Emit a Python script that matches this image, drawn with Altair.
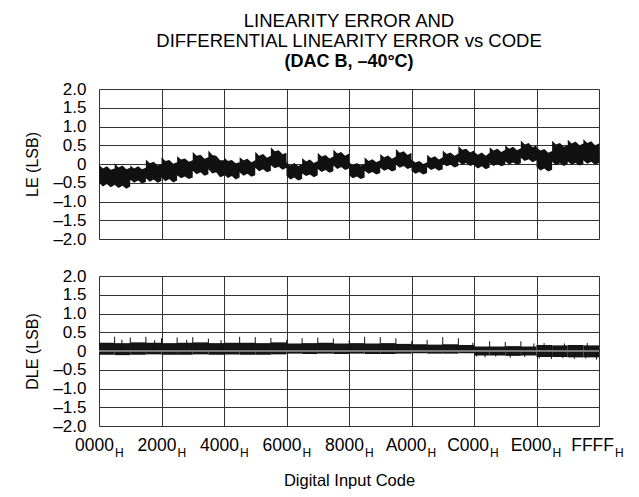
import altair as alt
import pandas as pd

FONT = "Liberation Sans"

TITLE_LINES = ["LINEARITY ERROR AND", "DIFFERENTIAL LINEARITY ERROR vs CODE"]
SUBTITLE = "(DAC B, –40°C)"

Y_TICKS = [-2.0, -1.5, -1.0, -0.5, 0.0, 0.5, 1.0, 1.5, 2.0]
X_TICK_CODES = [0x0000, 0x2000, 0x4000, 0x6000, 0x8000, 0xA000, 0xC000, 0xE000, 0xFFFF]
X_TICK_TEXT = ["0000", "2000", "4000", "6000", "8000", "A000", "C000", "E000", "FFFF"]
X_TICK_SUB = "H"

SEG_LEN = 2048
SEG_OFFSETS = [0, 512, 1024, 1536, 2047]

# LE envelope (upper / lower edge of the noisy trace), 5 readings per 0x800 segment
LE_HI = [
    [-0.02, -0.12, -0.06, -0.15, -0.12],
    [0.02, -0.09, -0.04, -0.14, -0.10],
    [-0.04, -0.12, -0.06, -0.14, -0.10],
    [0.12, 0.02, 0.06, -0.04, 0.00],
    [0.18, 0.08, 0.11, 0.01, 0.05],
    [0.21, 0.12, 0.15, 0.06, 0.10],
    [0.32, 0.22, 0.25, 0.14, 0.18],
    [0.36, 0.24, 0.22, 0.10, 0.10],
    [0.18, 0.08, 0.11, 0.02, 0.05],
    [0.18, 0.10, 0.14, 0.05, 0.10],
    [0.33, 0.22, 0.27, 0.17, 0.22],
    [0.45, 0.34, 0.37, 0.26, 0.30],
    [0.05, -0.04, 0.03, -0.05, 0.00],
    [0.16, 0.07, 0.12, 0.03, 0.08],
    [0.30, 0.20, 0.24, 0.15, 0.20],
    [0.39, 0.28, 0.32, 0.22, 0.28],
    [0.05, -0.03, 0.03, -0.04, 0.00],
    [0.18, 0.08, 0.13, 0.05, 0.10],
    [0.27, 0.18, 0.23, 0.14, 0.20],
    [0.40, 0.30, 0.34, 0.24, 0.30],
    [0.12, 0.04, 0.08, 0.00, 0.05],
    [0.25, 0.16, 0.21, 0.12, 0.18],
    [0.36, 0.27, 0.31, 0.22, 0.28],
    [0.48, 0.38, 0.41, 0.31, 0.36],
    [0.33, 0.25, 0.31, 0.22, 0.30],
    [0.45, 0.36, 0.41, 0.32, 0.38],
    [0.50, 0.41, 0.46, 0.37, 0.42],
    [0.63, 0.52, 0.56, 0.45, 0.50],
    [0.45, 0.36, 0.40, 0.30, 0.35],
    [0.62, 0.52, 0.56, 0.46, 0.50],
    [0.65, 0.55, 0.60, 0.50, 0.55],
    [0.66, 0.56, 0.61, 0.50, 0.55],
]
LE_LO = [
    [-0.50, -0.60, -0.53, -0.62, -0.56],
    [-0.55, -0.64, -0.58, -0.66, -0.60],
    [-0.42, -0.50, -0.44, -0.52, -0.48],
    [-0.38, -0.47, -0.41, -0.50, -0.45],
    [-0.36, -0.46, -0.40, -0.49, -0.44],
    [-0.30, -0.38, -0.33, -0.40, -0.36],
    [-0.18, -0.27, -0.22, -0.31, -0.27],
    [-0.14, -0.25, -0.22, -0.35, -0.31],
    [-0.28, -0.37, -0.32, -0.41, -0.36],
    [-0.22, -0.31, -0.26, -0.34, -0.30],
    [-0.10, -0.19, -0.14, -0.22, -0.18],
    [-0.03, -0.11, -0.07, -0.15, -0.10],
    [-0.32, -0.41, -0.36, -0.44, -0.40],
    [-0.25, -0.32, -0.28, -0.35, -0.30],
    [-0.13, -0.21, -0.16, -0.23, -0.19],
    [-0.04, -0.13, -0.08, -0.16, -0.12],
    [-0.30, -0.38, -0.33, -0.40, -0.36],
    [-0.18, -0.26, -0.21, -0.28, -0.24],
    [-0.10, -0.18, -0.13, -0.20, -0.16],
    [-0.02, -0.10, -0.05, -0.13, -0.09],
    [-0.18, -0.26, -0.21, -0.28, -0.24],
    [-0.08, -0.16, -0.11, -0.18, -0.14],
    [0.01, -0.06, -0.02, -0.09, -0.05],
    [0.07, -0.02, 0.03, -0.05, -0.01],
    [-0.04, -0.12, -0.06, -0.14, -0.09],
    [0.03, -0.05, 0.00, -0.06, -0.02],
    [0.07, -0.01, 0.04, -0.02, 0.02],
    [0.17, 0.08, 0.13, 0.05, 0.10],
    [-0.08, -0.17, -0.12, -0.20, -0.15],
    [0.06, -0.03, 0.02, -0.05, 0.00],
    [0.07, -0.02, 0.03, -0.04, 0.00],
    [0.10, 0.01, 0.06, -0.02, 0.03],
]

# DLE dense band per 0x800 segment
DLE_SEG_HI = [0.22, 0.21, 0.23, 0.22, 0.21, 0.22, 0.23, 0.21,
              0.22, 0.22, 0.21, 0.23, 0.20, 0.21, 0.22, 0.20,
              0.21, 0.20, 0.21, 0.19, 0.18, 0.17, 0.18, 0.16,
              0.12, 0.12, 0.13, 0.12, 0.16, 0.15, 0.16, 0.15]
DLE_SEG_LO = [-0.10, -0.11, -0.10, -0.09, -0.10, -0.10, -0.09, -0.10,
              -0.09, -0.10, -0.10, -0.09, -0.07, -0.08, -0.07, -0.08,
              -0.07, -0.08, -0.08, -0.07, -0.06, -0.07, -0.07, -0.06,
              -0.12, -0.12, -0.13, -0.12, -0.16, -0.16, -0.17, -0.17]
# DLE spikes
DLE_UP_CODE = [2048, 3000, 4096, 6144, 7300, 8192, 10240, 11500, 12288, 14336,
               16000, 18432, 20480, 22528, 24600, 26624, 28672, 30720, 32800,
               34816, 36864, 38912, 41000, 43008, 45056, 47104, 49000, 51200,
               53248, 55296, 57000, 58340, 61000, 64000]
DLE_UP_VAL = [0.38, 0.30, 0.36, 0.38, 0.29, 0.34, 0.36, 0.30, 0.37, 0.33,
              0.29, 0.38, 0.37, 0.35, 0.30, 0.34, 0.36, 0.33, 0.29,
              0.38, 0.37, 0.34, 0.27, 0.30, 0.37, 0.34, 0.22, 0.26,
              0.24, 0.26, 0.20, 0.21, 0.20, 0.21]
DLE_DN_CODE = [49500, 50600, 52000, 53900, 55800, 57700, 59300, 60800, 62300, 63800, 65200]
DLE_DN_VAL = [-0.15, -0.17, -0.15, -0.18, -0.16, -0.20, -0.21, -0.19, -0.21, -0.20, -0.23]

# ---------------------------------------------------------------- tables
le_df = pd.DataFrame({
    "code": [k * SEG_LEN + o for k in range(len(LE_HI)) for o in SEG_OFFSETS],
    "hi": [v for row in LE_HI for v in row],
    "lo": [v for row in LE_LO for v in row],
})
dle_df = pd.DataFrame({
    "code": [k * SEG_LEN for k in range(len(DLE_SEG_HI))],
    "end": [k * SEG_LEN + SEG_LEN - 1 for k in range(len(DLE_SEG_HI))],
    "hi": DLE_SEG_HI,
    "lo": DLE_SEG_LO,
})
up_df = pd.DataFrame({"code": DLE_UP_CODE, "hi": DLE_UP_VAL, "lo": 0.0})
dn_df = pd.DataFrame({"code": DLE_DN_CODE, "hi": DLE_DN_VAL, "lo": 0.0})
zero_df = pd.DataFrame({"hi": [0.0]})
xt_df = pd.DataFrame({"code": X_TICK_CODES, "label": X_TICK_TEXT, "sub": X_TICK_SUB})

W, H = 500, 150
GRID = "#333333"

xs = alt.Scale(domain=[0, 65535], nice=False, zero=False)
ys = alt.Scale(domain=[-2, 2], nice=False, zero=False)

LABEL_EXPR = "datum.value == 0 ? '0' : (datum.value < 0 ? '\u2013' : '') + format(abs(datum.value), '.1f')"


def y_axis(title):
    return alt.Axis(values=Y_TICKS, title=title, labelExpr=LABEL_EXPR, grid=True,
                    ticks=False, domain=False, labelPadding=13, labelFontSize=17,
                    labelFont=FONT, labelColor="black", labelFlush=False,
                    labelOverlap=False, titleFontSize=16, titleFont=FONT,
                    titleFontWeight="normal", titleColor="black", titlePadding=12,
                    gridColor=GRID, gridWidth=1, gridOpacity=1)


def x_axis(title=None):
    kw = dict(values=X_TICK_CODES, labels=False, ticks=False, domain=False, grid=True,
              gridColor=GRID, gridWidth=1, gridOpacity=1)
    if title:
        kw.update(title=title, titleFontSize=16.5, titleFont=FONT, titleFontWeight="normal",
                  titleColor="black", titlePadding=46)
    else:
        kw.update(title=None)
    return alt.Axis(**kw)


X_TOP = x_axis()
X_BOT = x_axis("Digital Input Code")
Y_TOP = y_axis("LE (LSB)")
Y_BOT = y_axis("DLE (LSB)")

le_area = alt.Chart(le_df).mark_area(color="#111111", interpolate="linear").encode(
    x=alt.X("code:Q", scale=xs, axis=X_TOP),
    y=alt.Y("hi:Q", scale=ys, axis=Y_TOP),
    y2="lo:Q",
)

top = alt.layer(le_area).properties(
    width=W, height=H,
    title=alt.TitleParams(
        text=TITLE_LINES, subtitle=SUBTITLE, font=FONT, fontSize=18.5,
        fontWeight="normal", color="black", lineHeight=20,
        subtitleFont=FONT, subtitleFontSize=18, subtitleFontWeight="bold",
        subtitleColor="black", subtitleLineHeight=20, subtitlePadding=3,
        anchor="middle", offset=9,
    ),
)

dle_band = alt.Chart(dle_df).mark_rect(color="#151515").encode(
    x=alt.X("code:Q", scale=xs, axis=X_BOT),
    x2="end:Q",
    y=alt.Y("hi:Q", scale=ys, axis=Y_BOT),
    y2="lo:Q",
)
dle_up = alt.Chart(up_df).mark_rule(color="#111111", strokeWidth=1).encode(
    x=alt.X("code:Q", scale=xs, axis=X_BOT),
    y=alt.Y("hi:Q", scale=ys, axis=Y_BOT), y2="lo:Q")
dle_dn = alt.Chart(dn_df).mark_rule(color="#111111", strokeWidth=1).encode(
    x=alt.X("code:Q", scale=xs, axis=X_BOT),
    y=alt.Y("hi:Q", scale=ys, axis=Y_BOT), y2="lo:Q")
dle_zero = alt.Chart(zero_df).mark_rule(color="#9a9a9a", strokeWidth=1.5).encode(
    y=alt.Y("hi:Q", scale=ys, axis=Y_BOT))

x_lab = alt.Chart(xt_df).mark_text(align="right", baseline="alphabetic", dx=15,
                                   fontSize=17.5, font=FONT, color="black").encode(
    x=alt.X("code:Q", scale=xs, axis=X_BOT), y=alt.value(H + 25), text="label:N")
x_sub = alt.Chart(xt_df).mark_text(align="left", baseline="alphabetic", dx=16,
                                   fontSize=12, font=FONT, color="black").encode(
    x=alt.X("code:Q", scale=xs, axis=X_BOT), y=alt.value(H + 31), text="sub:N")

bottom = alt.layer(dle_band, dle_up, dle_dn, dle_zero, x_lab, x_sub).properties(width=W, height=H)

chart = alt.vconcat(top, bottom, spacing=37, bounds="flush").properties(
    padding={"left": 16, "top": 3, "right": 5, "bottom": 3},
    background="white",
).configure_view(stroke="black", strokeWidth=2.5).configure(font=FONT)

chart.save("out.html", embed_options={"renderer": "svg", "actions": False})
